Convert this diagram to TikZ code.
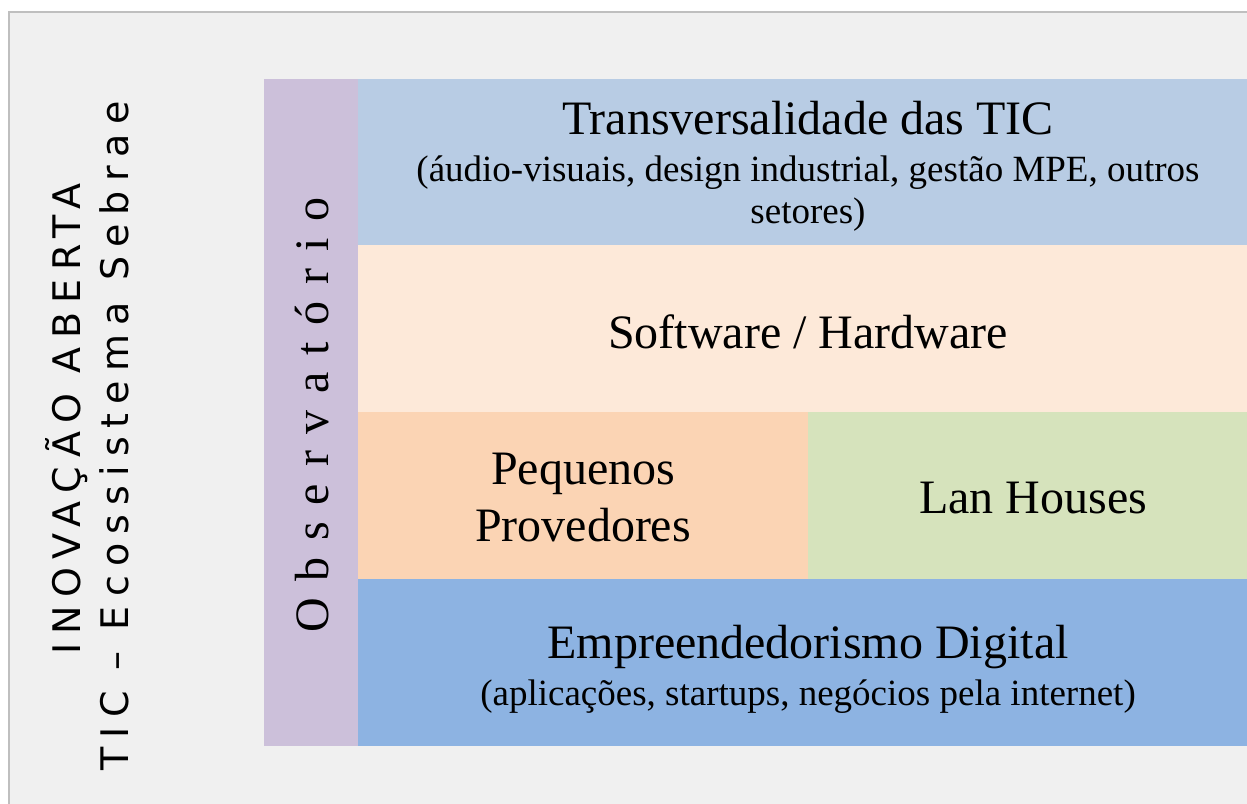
\documentclass[tikz,border=0pt]{standalone}
\usepackage{fontspec}
\setmainfont{Liberation Serif}
\newfontfamily\lsans[LetterSpace=23]{DejaVu Sans}
\newfontfamily\lsansb[LetterSpace=24]{DejaVu Sans}
\newfontfamily\lserif[LetterSpace=35]{Liberation Serif}
\definecolor{bgc}{HTML}{F0F0F0}
\definecolor{framec}{HTML}{BFBFBF}
\definecolor{obsc}{HTML}{CCC0DA}
\definecolor{transc}{HTML}{B8CCE4}
\definecolor{softc}{HTML}{FDE9D9}
\definecolor{pequc}{HTML}{FBD4B4}
\definecolor{lanc}{HTML}{D6E3BC}
\definecolor{empc}{HTML}{8DB3E2}
\begin{document}
\begin{tikzpicture}[x=1pt,y=-1pt,
  box/.style={draw=none,inner sep=0pt,outer sep=0pt,anchor=north west},
  lbl/.style={inner sep=0pt,outer sep=0pt,anchor=base},
  big/.style={font=\fontsize{48}{57}\selectfont},
  small/.style={font=\fontsize{37}{42}\selectfont}]
\useasboundingbox (0,0) rectangle (1247,803);
\begin{scope}
\clip (0,0) rectangle (1247,803);
\fill[bgc] (9,12) rectangle (1280,830);
\draw[framec,line width=1.5pt] (9,830) -- (9,12) -- (1280,12);
% boxes
\node[box,fill=obsc,minimum width=94pt,minimum height=667pt] (obs) at (264,79) {};
\node[box,fill=transc,minimum width=900pt,minimum height=166pt] (trans) at (358,79) {};
\node[box,fill=softc,minimum width=900pt,minimum height=167pt] (soft) at (358,245) {};
\node[box,fill=pequc,minimum width=450pt,minimum height=167pt] (pequ) at (358,412) {};
\node[box,fill=lanc,minimum width=450pt,minimum height=167pt] (lan) at (808,412) {};
\node[box,fill=empc,minimum width=900pt,minimum height=167pt] (emp) at (358,579) {};
% texts
\node[lbl,big] (t1) at (808,134) {Transversalidade das TIC};
\node[lbl,small] (t2) at (808,181) {(áudio-visuais, design industrial, gestão MPE, outros};
\node[lbl,small] (t3) at (808,223) {setores)};
\node[lbl,big] (s1) at (808,348) {Software / Hardware};
\node[lbl,big] (p1) at (583,484) {Pequenos};
\node[lbl,big] (p2) at (583,541) {Provedores};
\node[lbl,big] (l1) at (1033,513) {Lan Houses};
\node[lbl,big] (e1) at (808,658) {Empreendedorismo Digital};
\node[lbl,small] (e2) at (808,705) {(aplicações, startups, negócios pela internet)};
% rotated texts
\node[lbl,rotate=90,font=\fontsize{48}{57}\lserif] (o1) at (328,415) {Observatório};
\node[lbl,rotate=90,font=\fontsize{38}{46}\lsans] (v1) at (80,419) {INOVAÇÃO ABERTA};
\node[lbl,rotate=90,font=\fontsize{38}{46}\lsansb] (v2) at (128,436) {TIC – Ecossistema Sebrae};
\end{scope}
\end{tikzpicture}
\end{document}
